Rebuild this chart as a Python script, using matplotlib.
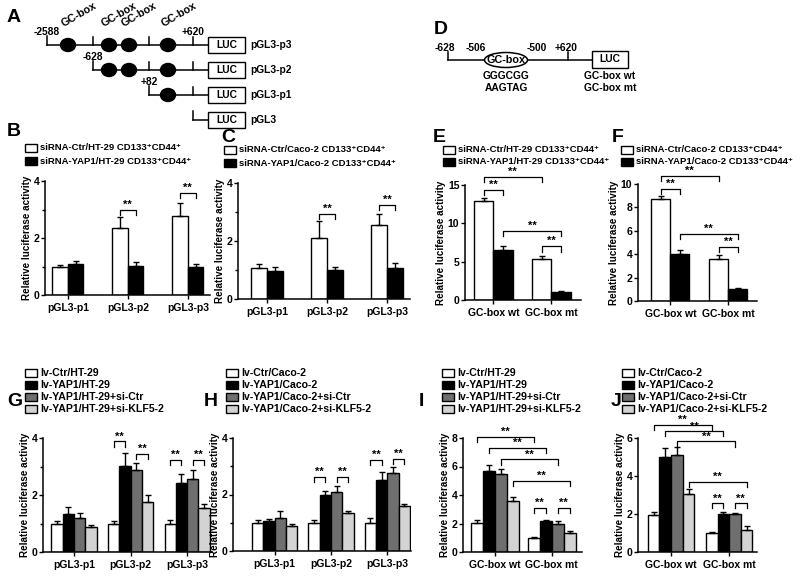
import matplotlib
matplotlib.use("Agg")
import matplotlib.pyplot as plt
from matplotlib.patches import Rectangle, Ellipse
import numpy as np

plt.rcParams["font.family"] = ["Liberation Sans", "DejaVu Sans"]
plt.rcParams["font.weight"] = "bold"
plt.rcParams["axes.labelweight"] = "bold"

FIG_W, FIG_H = 800, 579

# ---------------- data ----------------
promoter_groups = ["pGL3-p1", "pGL3-p2", "pGL3-p3"]
gcbox_groups = ["GC-box wt", "GC-box mt"]

# B: HT-29 CD133+CD44+, siRNA
b_ctr = [1.0, 2.35, 2.78]
b_ctr_err = [0.07, 0.38, 0.45]
b_yap = [1.1, 1.02, 1.0]
b_yap_err = [0.1, 0.13, 0.08]

# C: Caco-2 CD133+CD44+, siRNA
c_ctr = [1.06, 2.1, 2.56]
c_ctr_err = [0.14, 0.58, 0.38]
c_yap = [0.96, 1.0, 1.08]
c_yap_err = [0.13, 0.12, 0.15]

# E: HT-29 GC-box
e_ctr = [12.9, 5.4]
e_ctr_err = [0.4, 0.4]
e_yap = [6.5, 1.05]
e_yap_err = [0.5, 0.1]

# F: Caco-2 GC-box
f_ctr = [8.7, 3.55]
f_ctr_err = [0.25, 0.38]
f_yap = [4.05, 1.05]
f_yap_err = [0.35, 0.08]

# G: HT-29 lentivirus, promoter constructs
g_ctr = [1.0, 1.0, 1.0]
g_ctr_err = [0.1, 0.1, 0.12]
g_yap = [1.33, 3.02, 2.43]
g_yap_err = [0.25, 0.45, 0.32]
g_sictr = [1.2, 2.88, 2.55]
g_sictr_err = [0.17, 0.23, 0.33]
g_siklf = [0.88, 1.77, 1.56]
g_siklf_err = [0.08, 0.22, 0.14]

# H: Caco-2 lentivirus, promoter constructs
h_ctr = [1.0, 1.0, 1.0]
h_ctr_err = [0.08, 0.1, 0.17]
h_yap = [1.05, 1.98, 2.53]
h_yap_err = [0.07, 0.15, 0.27]
h_sictr = [1.17, 2.08, 2.77]
h_sictr_err = [0.25, 0.22, 0.2]
h_siklf = [0.88, 1.36, 1.6]
h_siklf_err = [0.07, 0.07, 0.08]

# I: HT-29 lentivirus, GC-box
i_ctr = [2.05, 1.0]
i_ctr_err = [0.2, 0.07]
i_yap = [5.65, 2.15]
i_yap_err = [0.45, 0.12]
i_sictr = [5.45, 2.0]
i_sictr_err = [0.4, 0.15]
i_siklf = [3.55, 1.32]
i_siklf_err = [0.3, 0.15]

# J: Caco-2 lentivirus, GC-box
j_ctr = [1.97, 1.0]
j_ctr_err = [0.12, 0.05]
j_yap = [5.0, 2.02]
j_yap_err = [0.45, 0.1]
j_sictr = [5.12, 2.0]
j_sictr_err = [0.4, 0.07]
j_siklf = [3.03, 1.18]
j_siklf_err = [0.3, 0.17]

# significance brackets: (group a, bar a, group b, bar b, height)
b_sig = [(1, 0, 1, 1, 3.0), (2, 0, 2, 1, 3.58)]
c_sig = [(1, 0, 1, 1, 2.94), (2, 0, 2, 1, 3.24)]
e_sig = [(0, 0, 1, 0, 16.1), (0, 0, 0, 1, 14.4), (0, 1, 1, 1, 9.0), (1, 0, 1, 1, 7.0)]
f_sig = [(0, 0, 1, 0, 10.7), (0, 0, 0, 1, 9.57), (0, 1, 1, 1, 5.73), (1, 0, 1, 1, 4.64)]
g_sig = [(1, 0, 1, 1, 3.88), (1, 2, 1, 3, 3.45), (2, 0, 2, 1, 3.24), (2, 2, 2, 3, 3.24)]
h_sig = [(1, 0, 1, 1, 2.61), (1, 2, 1, 3, 2.63), (2, 0, 2, 1, 3.23), (2, 2, 2, 3, 3.25)]
i_sig = [(0, 0, 1, 0, 8.1), (0, 1, 1, 1, 7.3), (0, 2, 1, 2, 6.5), (0, 3, 1, 3, 5.0),
         (1, 0, 1, 1, 3.1), (1, 2, 1, 3, 3.1)]
j_sig = [(0, 0, 1, 0, 6.7), (0, 1, 1, 1, 6.35), (0, 2, 1, 2, 5.82), (0, 3, 1, 3, 3.7),
         (1, 0, 1, 1, 2.56), (1, 2, 1, 3, 2.56)]

# legend labels
b_labels = ["siRNA-Ctr/HT-29 CD133\u207aCD44\u207a", "siRNA-YAP1/HT-29 CD133\u207aCD44\u207a"]
c_labels = ["siRNA-Ctr/Caco-2 CD133\u207aCD44\u207a", "siRNA-YAP1/Caco-2 CD133\u207aCD44\u207a"]
ht_lv_labels = ["lv-Ctr/HT-29", "lv-YAP1/HT-29", "lv-YAP1/HT-29+si-Ctr", "lv-YAP1/HT-29+si-KLF5-2"]
caco_lv_labels = ["lv-Ctr/Caco-2", "lv-YAP1/Caco-2", "lv-YAP1/Caco-2+si-Ctr",
                  "lv-YAP1/Caco-2+si-KLF5-2"]

# promoter diagram
construct_names = ["pGL3-p3", "pGL3-p2", "pGL3-p1", "pGL3"]
construct_starts = ["-2588", "-628", "+82", ""]

COLORS2 = ["white", "black"]
COLORS4 = ["white", "black", "#6f6f6f", "#d3d3d3"]


def px_axes(fig, left, top, right, bottom):
    return fig.add_axes([left / FIG_W, 1 - bottom / FIG_H,
                         (right - left) / FIG_W, (bottom - top) / FIG_H])


def bar_panel(ax, groups, series, errors, colors, width, xlim, yticks, minor, sig):
    n = len(series)
    x0 = np.arange(len(groups))
    offsets = [(i - (n - 1) / 2) * width for i in range(n)]
    for vals, errs, col, off in zip(series, errors, colors, offsets):
        ax.bar(x0 + off, vals, width, color=col, edgecolor="black", linewidth=1.0, zorder=2)
        ax.errorbar(x0 + off, vals, yerr=[np.zeros(len(vals)), errs], fmt="none",
                    ecolor="black", elinewidth=1.0, capsize=2.5, capthick=1.0, zorder=3)
    ymax = yticks[-1]
    ax.set_xlim(*xlim)
    ax.set_ylim(0, ymax)
    ax.set_xticks(x0)
    ax.set_xticklabels(groups, fontsize=7.5, fontweight="bold")
    ax.set_yticks(yticks)
    ax.set_yticklabels([str(t) for t in yticks], fontsize=7.6, fontweight="bold")
    if minor:
        ax.set_yticks(minor, minor=True)
    ax.tick_params(axis="y", direction="out", length=3, width=1.0, pad=1)
    ax.tick_params(axis="y", which="minor", length=2, width=1.0)
    ax.tick_params(axis="x", direction="out", length=3, width=1.0, pad=3)
    for s in ["top", "right"]:
        ax.spines[s].set_visible(False)
    for s in ["left", "bottom"]:
        ax.spines[s].set_linewidth(1.1)
    ax.set_ylabel("Relative luciferase activity", fontsize=7.1, fontweight="bold", labelpad=1)
    d = 0.045 * ymax
    for ga, ba, gb, bb, h in sig:
        xa = ga + offsets[ba]
        xb = gb + offsets[bb]
        ax.plot([xa, xa, xb, xb], [h - d, h, h, h - d], color="black", lw=0.9,
                clip_on=False, zorder=4)
        ax.text((xa + xb) / 2, h, "**", ha="center", va="bottom",
                fontsize=8, fontweight="bold", clip_on=False)


def legend_rows(cv, x, ys, labels, colors, fs=6.8):
    for y, lab, col in zip(ys, labels, colors):
        cv.add_patch(Rectangle((x, y - 4), 12, 8, facecolor=col, edgecolor="black", lw=1.0))
        cv.text(x + 15, y, lab, ha="left", va="center", fontsize=fs, fontweight="bold")


fig = plt.figure(figsize=(FIG_W / 100, FIG_H / 100), dpi=100)

# canvas for letters, diagrams and legends (pixel coords)
cv = fig.add_axes([0, 0, 1, 1])
cv.set_xlim(0, FIG_W)
cv.set_ylim(FIG_H, 0)
cv.axis("off")

for letter, (lx, ly) in zip("ABCDEFGHIJ", [(14, 18), (14, 132), (228, 137), (441, 29),
                                          (439, 138), (618, 138), (15, 402), (211, 402),
                                          (421, 402), (616, 402)]):
    cv.text(lx, ly, letter, ha="center", va="center", fontsize=14, fontweight="bold")

# ---- panel A diagram ----
row_y = [45, 70, 95, 120]
start_x = [47, 93, 149, 193]
gc_x = [68, 109, 129, 168]
mark_x = [93, 149, 193]
luc_x0, luc_x1 = 208, 245
for k, (name, start, ry, sx) in enumerate(zip(construct_names, construct_starts, row_y, start_x)):
    cv.plot([sx, luc_x0], [ry, ry], color="black", lw=1.1)
    cv.plot([sx, sx], [ry, ry - 9], color="black", lw=1.1)
    if start:
        cv.text(sx, ry - 13, start, ha="center", va="center", fontsize=7.4, fontweight="bold")
    for mx in mark_x:
        if mx > sx:
            cv.plot([mx, mx], [ry, ry - 8], color="black", lw=1.1)
    for gx in gc_x:
        if gx > sx:
            cv.add_patch(Ellipse((gx, ry), 15, 13, facecolor="black", edgecolor="black"))
            if k == 0:
                cv.text(gx - 4, ry - 16, "GC-box", ha="left", va="bottom", rotation=30,
                        rotation_mode="anchor", fontsize=7.8, fontweight="bold")
    cv.add_patch(Rectangle((luc_x0, ry - 8), luc_x1 - luc_x0, 16, facecolor="white",
                           edgecolor="black", lw=1.0))
    cv.text((luc_x0 + luc_x1) / 2, ry, "LUC", ha="center", va="center", fontsize=7.4,
            fontweight="bold")
    cv.text(luc_x1 + 5, ry, name, ha="left", va="center", fontsize=7.4, fontweight="bold")
cv.text(193, row_y[0] - 13, "+620", ha="center", va="center", fontsize=7.4, fontweight="bold")

# ---- panel D diagram ----
dy = 60
cv.plot([448, 592], [dy, dy], color="black", lw=1.1)
cv.plot([448, 448], [dy, dy - 8], color="black", lw=1.1)
cv.plot([568, 568], [dy, dy - 8], color="black", lw=1.1)
cv.add_patch(Ellipse((506, dy), 43, 15, facecolor="white", edgecolor="black", lw=1.1, zorder=3))
cv.text(506, dy, "GC-box", ha="center", va="center", fontsize=7.8, zorder=4)
for lx, lab in zip([445, 476, 537, 566], ["-628", "-506", "-500", "+620"]):
    cv.text(lx, dy - 12, lab, ha="center", va="center", fontsize=7.4, fontweight="bold")
cv.add_patch(Rectangle((592, dy - 9), 36, 17, facecolor="white", edgecolor="black", lw=1.0))
cv.text(610, dy - 0.5, "LUC", ha="center", va="center", fontsize=7.4, fontweight="bold")
cv.text(506, 76, "GGGCGG", ha="center", va="center", fontsize=7.4, fontweight="bold")
cv.text(506, 88, "AAGTAG", ha="center", va="center", fontsize=7.4, fontweight="bold")
cv.text(610, 76, "GC-box wt", ha="center", va="center", fontsize=7.4, fontweight="bold")
cv.text(610, 88, "GC-box mt", ha="center", va="center", fontsize=7.4, fontweight="bold")

# ---- legends ----
legend_rows(cv, 25, [148, 161], b_labels, COLORS2)
legend_rows(cv, 224, [150, 163], c_labels, COLORS2)
legend_rows(cv, 443, [150, 162], b_labels, COLORS2)
legend_rows(cv, 621, [150, 162], c_labels, COLORS2)
legend_rows(cv, 25, [373, 385, 397, 409], ht_lv_labels, COLORS4, 7.6)
legend_rows(cv, 226, [373, 385, 397, 409], caco_lv_labels, COLORS4, 7.6)
legend_rows(cv, 442, [373, 385, 397, 409], ht_lv_labels, COLORS4, 7.6)
legend_rows(cv, 622, [373, 385, 397, 409], caco_lv_labels, COLORS4, 7.6)

# ---- bar panels ----
ax_b = px_axes(fig, 45, 181, 210, 295)
bar_panel(ax_b, promoter_groups, [b_ctr, b_yap], [b_ctr_err, b_yap_err], COLORS2, 0.26,
          (-0.38, 2.37), [0, 2, 4], [1, 3], b_sig)

ax_c = px_axes(fig, 238, 183, 410, 299)
bar_panel(ax_c, promoter_groups, [c_ctr, c_yap], [c_ctr_err, c_yap_err], COLORS2, 0.27,
          (-0.48, 2.38), [0, 2, 4], [1, 3], c_sig)

ax_e = px_axes(fig, 465, 185, 581, 300)
bar_panel(ax_e, gcbox_groups, [e_ctr, e_yap], [e_ctr_err, e_yap_err], COLORS2, 0.33,
          (-0.49, 1.51), [0, 5, 10, 15], None, e_sig)

ax_f = px_axes(fig, 638, 184, 757, 301)
bar_panel(ax_f, gcbox_groups, [f_ctr, f_yap], [f_ctr_err, f_yap_err], COLORS2, 0.33,
          (-0.56, 1.5), [0, 2, 4, 6, 8, 10], None, f_sig)

ax_g = px_axes(fig, 43, 438, 212, 552)
bar_panel(ax_g, promoter_groups, [g_ctr, g_yap, g_sictr, g_siklf],
          [g_ctr_err, g_yap_err, g_sictr_err, g_siklf_err], COLORS4, 0.2,
          (-0.55, 2.44), [0, 2, 4], [1, 3], g_sig)

ax_h = px_axes(fig, 233, 438, 411, 551)
bar_panel(ax_h, promoter_groups, [h_ctr, h_yap, h_sictr, h_siklf],
          [h_ctr_err, h_yap_err, h_sictr_err, h_siklf_err], COLORS4, 0.2,
          (-0.74, 2.42), [0, 2, 4], [1, 3], h_sig)

ax_i = px_axes(fig, 463, 438, 582, 552)
bar_panel(ax_i, gcbox_groups, [i_ctr, i_yap, i_sictr, i_siklf],
          [i_ctr_err, i_yap_err, i_sictr_err, i_siklf_err], COLORS4, 0.21,
          (-0.56, 1.53), [0, 2, 4, 6, 8], None, i_sig)

ax_j = px_axes(fig, 638, 438, 757, 552)
bar_panel(ax_j, gcbox_groups, [j_ctr, j_yap, j_sictr, j_siklf],
          [j_ctr_err, j_yap_err, j_sictr_err, j_siklf_err], COLORS4, 0.2,
          (-0.57, 1.48), [0, 2, 4, 6], None, j_sig)

fig.savefig("out.png", dpi=100)
